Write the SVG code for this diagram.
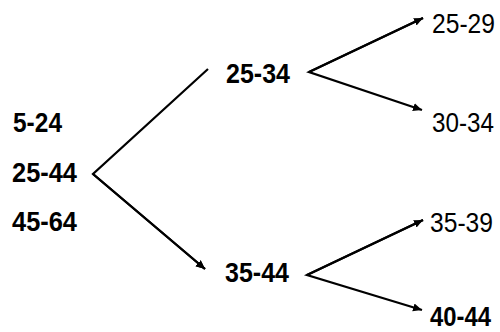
<svg xmlns="http://www.w3.org/2000/svg" width="500" height="332" viewBox="0 0 500 332">
<style>
text{font-family:"Liberation Sans",Arial,sans-serif;font-size:27px;fill:#000}
.b{font-weight:bold}
.c{fill:none;stroke:#000;stroke-width:2.2;marker-end:url(#ah)}
</style>
<defs>
<marker id="ah" markerUnits="userSpaceOnUse" markerWidth="10" markerHeight="10" viewBox="0 0 10 10" refX="9" refY="5" orient="auto">
<path d="M0,1 L9,5 L0,9 Z" fill="#000"/>
</marker>
</defs>
<rect width="500" height="332" fill="#fff"/>
<g id="connectors">
<path class="c" d="M208,69 L93,174 L205,269"/>
<path class="c" d="M93,174 L205,269"/>
<path class="c" d="M423,18 L309,72 L422,110"/>
<path class="c" d="M309,72 L423,18"/>
<path class="c" d="M423,220 L307,275 L422,310"/>
<path class="c" d="M307,275 L423,220"/>
</g>
<g id="n-5-24"><text class="b" x="13" y="132" textLength="49" lengthAdjust="spacingAndGlyphs">5-24</text></g>
<g id="n-25-44"><text class="b" x="12" y="182" textLength="65" lengthAdjust="spacingAndGlyphs">25-44</text></g>
<g id="n-45-64"><text class="b" x="12" y="231" textLength="65" lengthAdjust="spacingAndGlyphs">45-64</text></g>
<g id="n-25-34"><text class="b" x="226" y="83" textLength="64" lengthAdjust="spacingAndGlyphs">25-34</text></g>
<g id="n-35-44"><text class="b" x="225" y="282" textLength="64" lengthAdjust="spacingAndGlyphs">35-44</text></g>
<g id="n-25-29"><text x="432" y="33" textLength="63" lengthAdjust="spacingAndGlyphs">25-29</text></g>
<g id="n-30-34"><text x="432" y="132" textLength="62" lengthAdjust="spacingAndGlyphs">30-34</text></g>
<g id="n-35-39"><text x="430" y="232" textLength="63" lengthAdjust="spacingAndGlyphs">35-39</text></g>
<g id="n-40-44"><text class="b" x="430" y="326" textLength="61" lengthAdjust="spacingAndGlyphs">40-44</text></g>
</svg>
